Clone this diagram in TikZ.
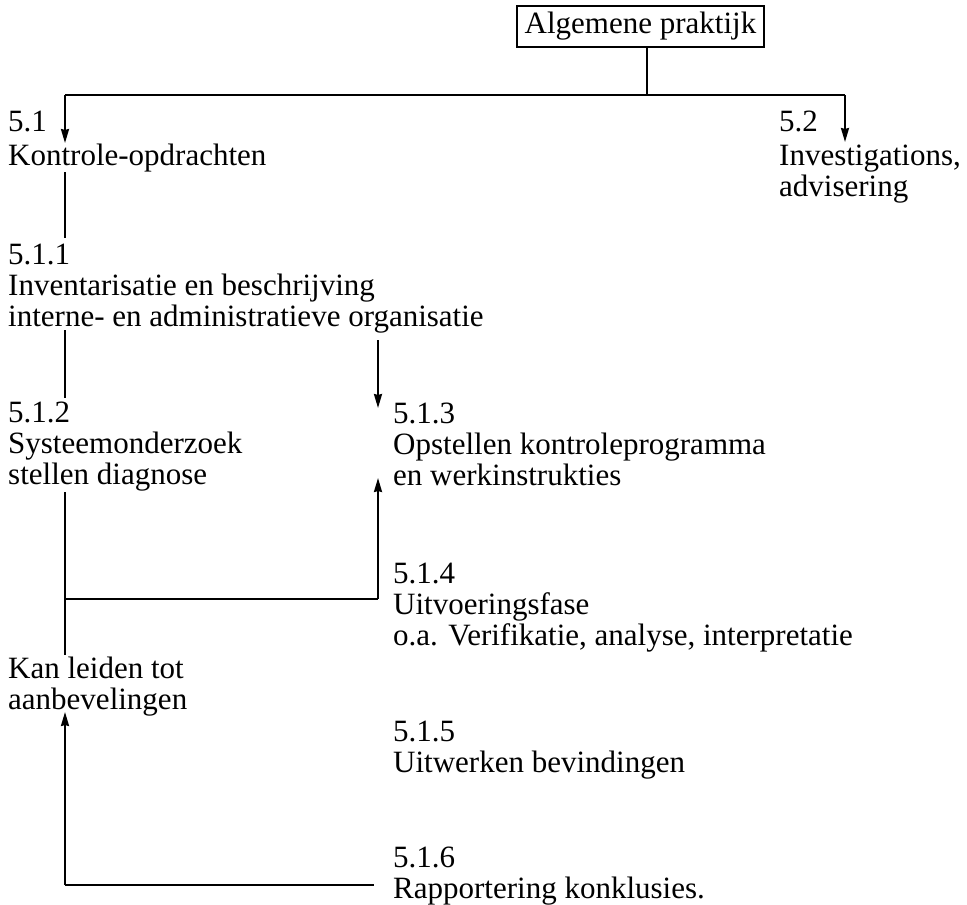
\documentclass[tikz,border=0pt]{standalone}
\usepackage{fontspec}
\setmainfont{Liberation Serif}
\usetikzlibrary{arrows.meta}
\begin{document}
\begin{tikzpicture}[x=1pt,y=-1pt,
  conn/.style={line width=2pt},
  arr/.style={line width=2pt,-{Stealth[length=14pt,width=8pt,inset=1pt]}},
  lbl/.style={anchor=base west,inner sep=0pt,align=left,font=\fontsize{31}{31}\selectfont},
  topbox/.style={draw,line width=2.4pt,inner sep=0pt,minimum width=247pt,minimum height=41pt,font=\fontsize{31}{31}\selectfont}]
\useasboundingbox (0,0) rectangle (967,905);
% nodes (anchor = baseline of the last line)
\node[topbox] (top) at (640.5,26.5) {Algemene praktijk};
\node[lbl] (n51) at (8,165) {5.1\\[3pt]Kontrole-opdrachten};
\node[lbl] (n52) at (779,196) {5.2\\[3pt]Investigations,\\advisering};
\node[lbl] (n511) at (8,326) {5.1.1\\Inventarisatie en beschrijving\\interne- en administratieve organisatie};
\node[lbl] (n512) at (8,484) {5.1.2\\Systeemonderzoek\\stellen diagnose};
\node[lbl] (n513) at (393,485) {5.1.3\\Opstellen kontroleprogramma\\en werkinstrukties};
\node[lbl] (n514) at (393,645) {5.1.4\\Uitvoeringsfase\\o.a. Verifikatie, analyse, interpretatie};
\node[lbl] (kan) at (8,709) {Kan leiden tot\\aanbevelingen};
\node[lbl] (n515) at (393,772) {5.1.5\\Uitwerken bevindingen};
\node[lbl] (n516) at (393,898) {5.1.6\\Rapportering konklusies.};
% junction coordinates
\coordinate (j0) at (647,95);
\coordinate (hL) at (65,95);
\coordinate (hR) at (845,95);
\coordinate (t51) at (65,143);
\coordinate (t52) at (845,142);
\coordinate (a1) at (65,172);
\coordinate (a2) at (65,238);
\coordinate (b1) at (65,330);
\coordinate (b2) at (65,398);
\coordinate (c1) at (378,340);
\coordinate (c2) at (378,408);
\coordinate (d1) at (65,492);
\coordinate (d2) at (65,655);
\coordinate (dm) at (65,599);
\coordinate (e1) at (378,599);
\coordinate (e2) at (378,478);
\coordinate (f1) at (65,885);
\coordinate (f2) at (65,712);
\coordinate (f3) at (374,885);
% connectors
\draw[conn] (top.south -| j0) -- (j0);
\draw[conn] (hL) -- (hR);
\draw[arr] (hL) -- (t51);
\draw[arr] (hR) -- (t52);
\draw[conn] (a1) -- (a2);
\draw[conn] (b1) -- (b2);
\draw[arr] (c1) -- (c2);
\draw[conn] (d1) -- (d2);
\draw[conn] (dm) -- (e1);
\draw[arr] (e1) -- (e2);
\draw[arr] (f1) -- (f2);
\draw[conn] (f1) -- (f3);
\end{tikzpicture}
\end{document}
